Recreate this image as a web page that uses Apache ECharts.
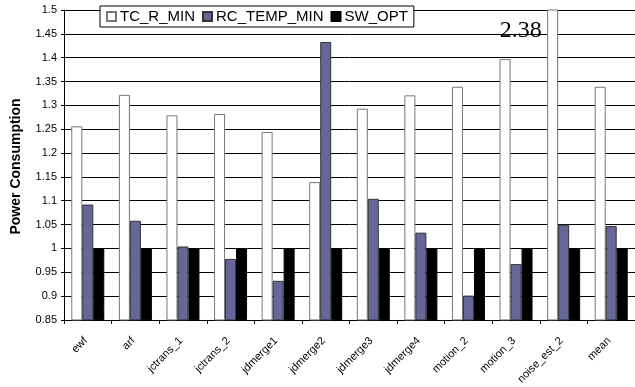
<!DOCTYPE html>
<html><head><meta charset="utf-8">
<script src="https://cdn.jsdelivr.net/npm/echarts@6/dist/echarts.min.js"></script>
<style>html,body{margin:0;padding:0;background:#fff}#c{width:635px;height:387px}</style>
</head><body><div id="c"></div>
<script>
const categories = ['ewf','arf','jctrans_1','jctrans_2','jdmerge1','jdmerge2','jdmerge3','jdmerge4','motion_2','motion_3','noise_est_2','mean'];
const tcRMin = [1.256,1.322,1.279,1.282,1.244,1.139,1.293,1.321,1.339,1.397,2.38,1.339];
const rcTempMin = [1.092,1.058,1.004,0.978,0.932,1.433,1.104,1.033,0.901,0.967,1.050,1.047];
const swOpt = [1,1,1,1,1,1,1,1,1,1,1,1];
const yTicks = {min:0.85, max:1.5, interval:0.05};
const seriesNames = ['TC_R_MIN','RC_TEMP_MIN','SW_OPT'];
const offScaleIndex = 10;

const font = 'Arial, "Liberation Sans", sans-serif';
const chart = echarts.init(document.getElementById('c'), null, {renderer:'canvas'});
const tcData = tcRMin.map((v,i)=> i===offScaleIndex ? {
  value:v,
  label:{show:true, position:'insideTop', distance:4, offset:[-32,5], formatter:'{c}',
    fontFamily:'"Liberation Serif","Times New Roman",serif', fontSize:24, color:'#000'}
} : v);
chart.setOption({
  animation:false,
  backgroundColor:'#fff',
  legend:{
    top:6, left:100, padding:[3,6,3,6],
    backgroundColor:'#fff', borderColor:'#000', borderWidth:1, borderRadius:0,
    itemWidth:9, itemHeight:9, itemGap:7,
    textStyle:{fontFamily:font, fontSize:15, color:'#000', padding:[0,0,0,-1]},
    data:seriesNames.map(n=>({name:n, icon:'rect'}))
  },
  grid:{left:64, top:10, width:575, height:313, containLabel:false},
  xAxis:{
    type:'category', data:categories,
    axisLine:{lineStyle:{color:'#000',width:1}},
    axisTick:{show:true, length:4, lineStyle:{color:'#000'}},
    axisLabel:{rotate:45, interval:0, margin:17, padding:[0,3,0,0], fontFamily:font, fontSize:11, color:'#000'},
    splitLine:{show:false}
  },
  yAxis:{
    type:'value', min:yTicks.min, max:yTicks.max, interval:yTicks.interval,
    name:'Power Consumption', nameLocation:'middle', nameGap:41,
    nameTextStyle:{fontFamily:font, fontSize:14, fontWeight:'bold', color:'#000', padding:[0,0,0,-3]},
    axisLine:{show:true, lineStyle:{color:'#000',width:1}},
    axisTick:{show:true, length:3, lineStyle:{color:'#000'}},
    axisLabel:{fontFamily:font, fontSize:11, color:'#000', margin:7},
    splitLine:{show:true, lineStyle:{color:'#000', width:1}}
  },
  series:[
    {name:seriesNames[0], type:'bar', data:tcData, barWidth:11, barGap:'0%', clip:true,
     itemStyle:{color:'#fff', borderColor:'#777', borderWidth:1}},
    {name:seriesNames[1], type:'bar', data:rcTempMin, barWidth:11, barGap:'0%', clip:true,
     itemStyle:{color:'#666699', borderColor:'#333', borderWidth:1}},
    {name:seriesNames[2], type:'bar', data:swOpt, barWidth:11, barGap:'0%', clip:true,
     itemStyle:{color:'#000', borderColor:'#000', borderWidth:1}}
  ]
});
</script></body></html>
